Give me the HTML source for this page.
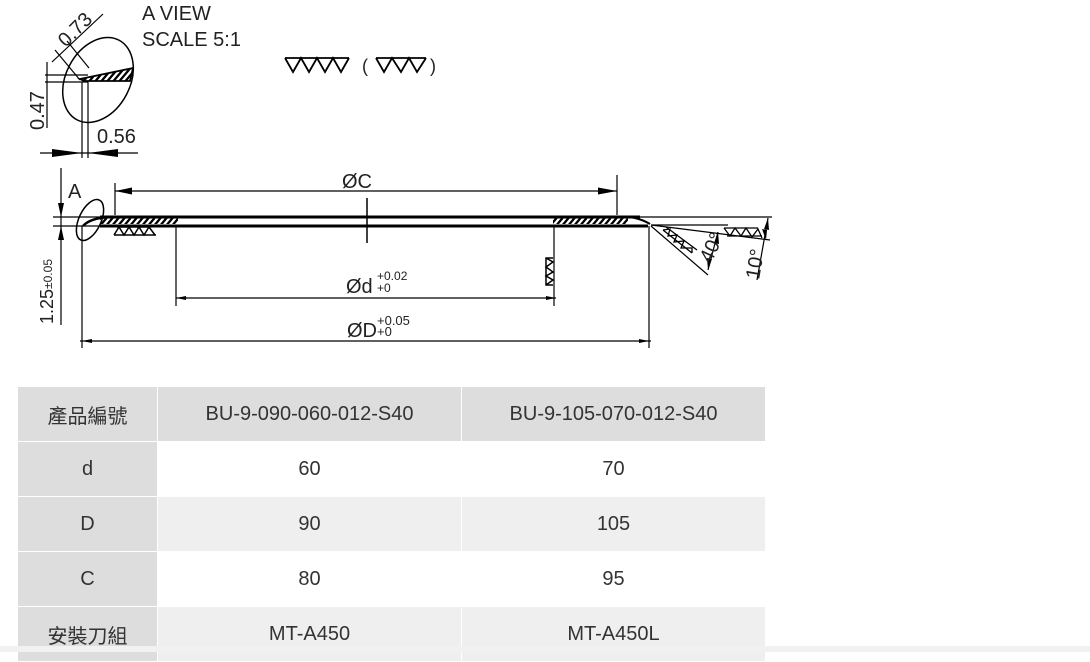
<!DOCTYPE html>
<html><head><meta charset="utf-8"><style>
html,body{margin:0;padding:0;width:1090px;height:652px;background:#fff;overflow:hidden;font-family:"Liberation Sans","Noto Sans CJK TC",sans-serif}
svg{position:absolute;left:0;top:0}
table{position:absolute;left:17px;top:386px;border-collapse:collapse;font-family:"Liberation Sans","Noto Sans CJK TC",sans-serif;font-size:20px;color:#333}
td{text-align:center;border:1px solid #fff;padding:0;height:54px}
td.h{background:#dddddd;width:139px}
tr.hd td{background:#dddddd}
tr.g td{background:#efefef}
tr.g td.h,tr.hd td.h{background:#dddddd}
.bot{position:absolute;left:0;top:646px;width:1090px;height:6px;background:#f1f1f1}
</style></head><body>
<svg width="1090" height="380" viewBox="0 0 1090 380">
<defs>
<pattern id="hat" width="6" height="8" patternUnits="userSpaceOnUse" patternTransform="skewX(-40)"><rect width="3" height="8" fill="#000"/></pattern>
</defs>
<g stroke="#000" fill="none" stroke-width="1.2">
<ellipse cx="98" cy="80" rx="32" ry="45" transform="rotate(28 98 80)" stroke-width="1.5"/>
<path d="M80 79 L133 68 L130 81 L84 81 Z" fill="url(#hat)" stroke-width="1.8"/>
<line x1="45" y1="75" x2="88" y2="75"/><line x1="45" y1="82" x2="88" y2="82"/>
<line x1="47" y1="62" x2="47" y2="128"/>
<line x1="82" y1="82" x2="82" y2="158"/><line x1="88" y1="82" x2="88" y2="158"/>
<line x1="40" y1="153" x2="138" y2="153"/>
<path d="M52 149 L82 153 L52 157z M118 149 L88 153 L118 157z" fill="#000" stroke="none"/>
<line x1="52" y1="62" x2="103" y2="14"/><line x1="55" y1="50" x2="80" y2="80"/><line x1="67" y1="41" x2="89" y2="68"/>
<path d="M285 58 H349 M285 58 L293 72 L301 58 L309 72 L317 58 L325 72 L333 58 L341 72 L349 58" stroke-width="1.8"/>
<path d="M376 58 H426 M376 58 L384 72 L392 58 L401 72 L409 58 L417 72 L426 58" stroke-width="1.8"/>
<line x1="100" y1="217" x2="640" y2="217" stroke-width="3"/>
<line x1="100" y1="226" x2="648" y2="226" stroke-width="3"/>
<path d="M83 226 Q90 218 110 217" stroke-width="2.5"/>
<rect x="100" y="218" width="78" height="6" fill="url(#hat)" stroke="none"/>
<rect x="553" y="218" width="75" height="6" fill="url(#hat)" stroke="none"/>
<path d="M628 217 Q640 218 650 224" stroke-width="2"/>
<line x1="367" y1="198" x2="367" y2="243" stroke-width="1.5"/>
<ellipse cx="90" cy="220" rx="11" ry="22" transform="rotate(25 90 220)" stroke-width="1.5"/>
<path d="M117 227 H150 M114 235 H156 M114 235 L119 227 L124 235 L129 227 L134 235 L139 227 L144 235 L149 227 L155 235" stroke-width="1.5"/>
<line x1="115" y1="183" x2="115" y2="215"/><line x1="617" y1="175" x2="617" y2="215"/>
<line x1="115" y1="191" x2="617" y2="191"/>
<path d="M115 191 L132 187.5 L132 194.5z M617 191 L598 187.5 L598 194.5z" fill="#000" stroke="none"/>
<line x1="176" y1="226" x2="176" y2="306"/><line x1="554" y1="226" x2="554" y2="306"/>
<line x1="176" y1="298" x2="556" y2="298"/>
<path d="M176 298 L186 296 L186 300z M556 298 L546 296 L546 300z" fill="#000" stroke="none"/>
<path d="M553 258 L546 258 L546 285 L553 285 M546 258 L553 262 L546 267 L553 272 L546 276 L553 280 L546 285" stroke-width="1.5"/>
<line x1="82" y1="226" x2="82" y2="348"/><line x1="649" y1="226" x2="649" y2="348"/>
<line x1="80" y1="341" x2="651" y2="341"/>
<path d="M82 341 L92 339 L92 343z M649 341 L639 339 L639 343z" fill="#000" stroke="none"/>
<line x1="53" y1="217" x2="100" y2="217"/><line x1="53" y1="226" x2="100" y2="226"/>
<line x1="61" y1="168" x2="61" y2="325"/>
<path d="M61 217 L58 203 L64 203z M61 226 L58 240 L64 240z" fill="#000" stroke="none"/>
<line x1="640" y1="217" x2="772" y2="217"/>
<line x1="651" y1="225" x2="770" y2="240"/>
<line x1="651" y1="225" x2="728" y2="225"/>
<line x1="651" y1="226" x2="708" y2="275"/>
<path d="M663 230 L692 253 M666 227 L697 250 M663 230 L670 229 L668 236 L677 235 L674 242 L684 241 L681 248 L692 248 L692 253" stroke-width="1.3"/>
<path d="M724 228 H758 M727 236 H762 M724 228 L730 236 L735 228 L741 236 L746 228 L752 237 L758 229 L762 238" stroke-width="1.3"/>
<line x1="718" y1="232" x2="708" y2="270"/>
<path d="M718 232 L719 244 L714 243z M708 270 L707 258 L712 259z" fill="#000" stroke="none"/>
<line x1="768" y1="218" x2="757" y2="280"/>
<path d="M768 218 L769 230 L764 229z M766 240 L762 229 L767 230z" fill="#000" stroke="none"/>
</g>
<g font-family="Liberation Sans,sans-serif" fill="#222">
<text x="142" y="20" font-size="20">A VIEW</text>
<text x="142" y="46" font-size="20">SCALE 5:1</text>
<text x="362" y="72" font-size="18">(</text>
<text x="430" y="72" font-size="18">)</text>
<text x="0" y="0" font-size="20" transform="translate(66 48) rotate(-45)">0.73</text>
<text x="0" y="0" font-size="20" transform="translate(44 130) rotate(-90)">0.47</text>
<text x="97" y="143" font-size="20">0.56</text>
<text x="68" y="198" font-size="20">A</text>
<text x="342" y="188" font-size="20">ØC</text>
<text x="346" y="293" font-size="20">Ød</text>
<text x="377" y="280" font-size="12">+0.02</text>
<text x="377" y="292" font-size="12">+0</text>
<text x="347" y="337" font-size="20">ØD</text>
<text x="377" y="325" font-size="13">+0.05</text>
<text x="377" y="336" font-size="13">+0</text>
<text x="0" y="0" font-size="18" transform="translate(53 324) rotate(-90)">1.25<tspan font-size="12" dy="-1">±0.05</tspan></text>
<text x="0" y="0" font-size="20" transform="translate(711 264) rotate(-65)">40°</text>
<text x="0" y="0" font-size="20" transform="translate(759 280) rotate(-80)">10°</text>
</g>
</svg>
<table>
<tr class="hd"><td class="h">產品編號</td><td style="width:303px">BU-9-090-060-012-S40</td><td style="width:303px">BU-9-105-070-012-S40</td></tr>
<tr><td class="h">d</td><td>60</td><td>70</td></tr>
<tr class="g"><td class="h">D</td><td>90</td><td>105</td></tr>
<tr><td class="h">C</td><td>80</td><td>95</td></tr>
<tr class="g"><td class="h">安裝刀組</td><td>MT-A450</td><td>MT-A450L</td></tr>
</table>
<div class="bot"></div>
</body></html>
